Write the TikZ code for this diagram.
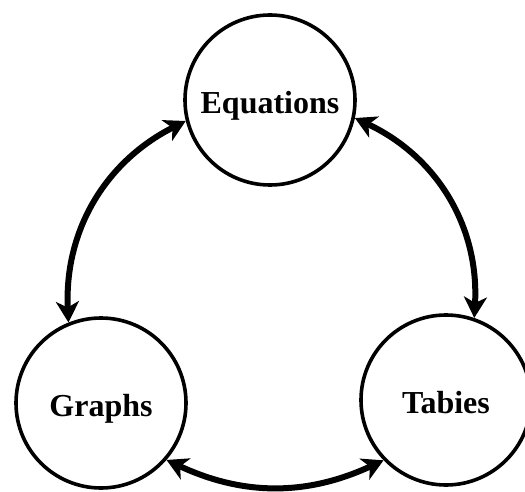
\documentclass[tikz,border=0pt]{standalone}
\usepackage{fontspec}
\setmainfont{Liberation Serif}
\usetikzlibrary{arrows.meta}
\begin{document}
\begin{tikzpicture}[x=1pt,y=1pt,
  topic/.style={circle,draw=black,line width=3.6pt,minimum size=170pt,inner sep=0pt,
    text height=27pt,text depth=0pt,
    font=\fontsize{32}{38}\selectfont\bfseries},
  link/.style={line width=6pt,{Stealth[length=21pt,width=23pt,inset=6pt]}-{Stealth[length=21pt,width=23pt,inset=6pt]}}]
\useasboundingbox (0,0) rectangle (525,-492);
\node[topic] (E) at (270,-100) {Equations};
\node[topic] (G) at (101,-403) {Graphs};
\node[topic] (T) at (446,-400) {Tabies};
\draw[link] (E.194) to[bend right=33] (G.112);
\draw[link] (E.-12) to[bend left=34] (T.71);
\draw[link] (G.-41) to[bend right=25] (T.224);
\end{tikzpicture}
\end{document}
